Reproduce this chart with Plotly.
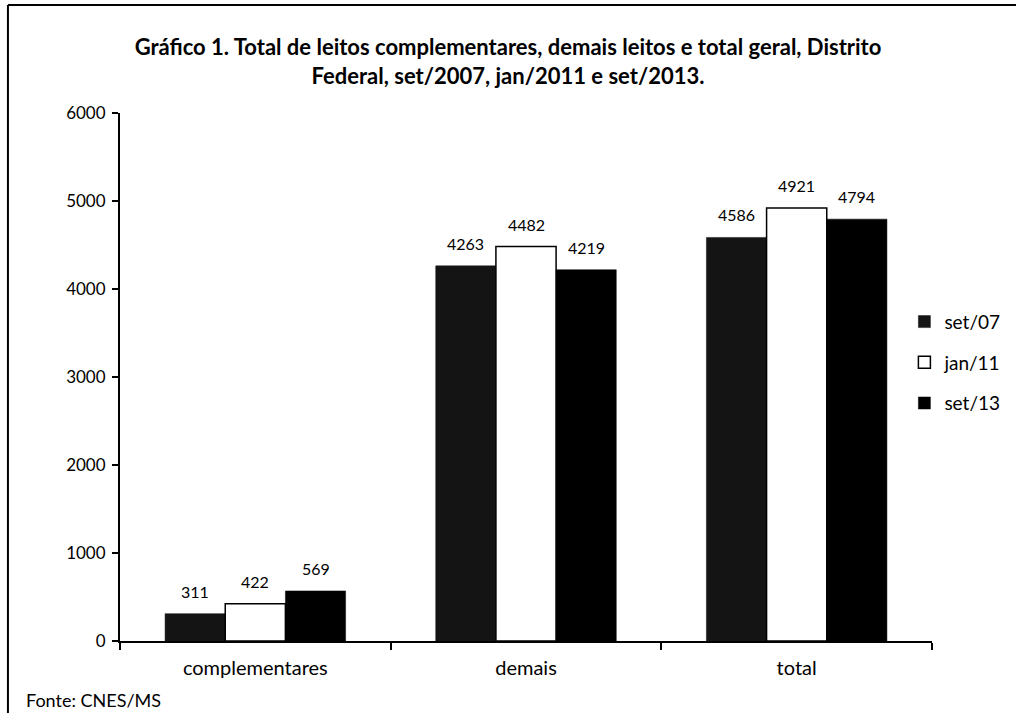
import plotly.graph_objects as go

categories = ["complementares", "demais", "total"]
series_names = ["set/07", "jan/11", "set/13"]
set07 = [311, 4263, 4586]
jan11 = [422, 4482, 4921]
set13 = [569, 4219, 4794]

y_ticks = [0, 1000, 2000, 3000, 4000, 5000, 6000]

font_family = "Lato, 'Open Sans', sans-serif"

fig = go.Figure()

styles = [
    dict(color="#141414", line=dict(color="#141414", width=0.5)),
    dict(color="#ffffff", line=dict(color="#000000", width=1.5)),
    dict(color="#000000", line=dict(color="#000000", width=0.5)),
]

all_values = [set07, jan11, set13]
for i, (name, values) in enumerate(zip(series_names, all_values)):
    fig.add_trace(go.Bar(
        x=categories,
        y=values,
        name=name,
        marker=styles[i],
        legendgroup=name,
    ))

# rótulos de dados acima de cada barra (deslocados pela largura da barra, ~60 px)
for i, values in enumerate(all_values):
    for cat, v in zip(categories, values):
        fig.add_annotation(
            x=cat, y=v, text=str(v), showarrow=False,
            xanchor="center", yanchor="bottom", xshift=(i - 1) * 60.2, yshift=11,
            font=dict(size=16, color="#000000", family=font_family),
        )

fig.update_layout(
    width=1016, height=713,
    margin=dict(l=120, r=84, t=113, b=72, autoexpand=False),
    paper_bgcolor="white", plot_bgcolor="white",
    barmode="group", bargap=0.333, bargroupgap=0,
    font=dict(family=font_family, color="#000000"),
    title=dict(
        text="<b>Gráfico 1. Total de leitos complementares, demais leitos e total geral, Distrito<br>"
             "Federal, set/2007, jan/2011 e set/2013.</b>",
        x=0.5, xanchor="center", y=0.923, yanchor="top",
        font=dict(size=22, family=font_family, color="#000000"),
    ),
    legend=dict(
        x=0.966, xanchor="left", y=0.527, yanchor="middle",
        font=dict(size=19, family=font_family, color="#000000"),
        tracegroupgap=13, itemwidth=30, traceorder="grouped",
        bgcolor="rgba(0,0,0,0)",
    ),
    showlegend=True,
)

fig.update_xaxes(
    showline=True, linecolor="#000000", linewidth=2,
    ticks="outside", tickson="boundaries", ticklen=7, tickcolor="#000000", tickwidth=2,
    tickfont=dict(size=20, family=font_family, color="#000000"),
    ticklabelstandoff=8,
    showgrid=False, zeroline=False,
)
fig.update_yaxes(
    range=[0, 6000], tickvals=y_ticks,
    showline=True, linecolor="#000000", linewidth=2,
    ticks="outside", ticklen=6, tickcolor="#000000", tickwidth=2,
    tickfont=dict(size=17, family=font_family, color="#000000"),
    ticklabelstandoff=3,
    showgrid=False, zeroline=False,
)

# moldura da figura
fig.add_shape(type="line", xref="paper", yref="paper",
              x0=-0.138, x1=-0.138, y0=-0.2, y1=1.2045,
              line=dict(color="#000000", width=2))
fig.add_shape(type="line", xref="paper", yref="paper",
              x0=-0.138, x1=1.11, y0=1.2045, y1=1.2045,
              line=dict(color="#000000", width=2))

fig.add_annotation(
    text="Fonte: CNES/MS", xref="paper", yref="paper",
    x=-0.118, y=-0.111, xanchor="left", yanchor="middle", showarrow=False,
    font=dict(size=18, family=font_family, color="#000000"),
)

# sem a margem padrão do <body>, para a figura ocupar a janela inteira
fig.write_html("out.html", config={"displayModeBar": False},
               post_script="document.body.style.margin='0';")
